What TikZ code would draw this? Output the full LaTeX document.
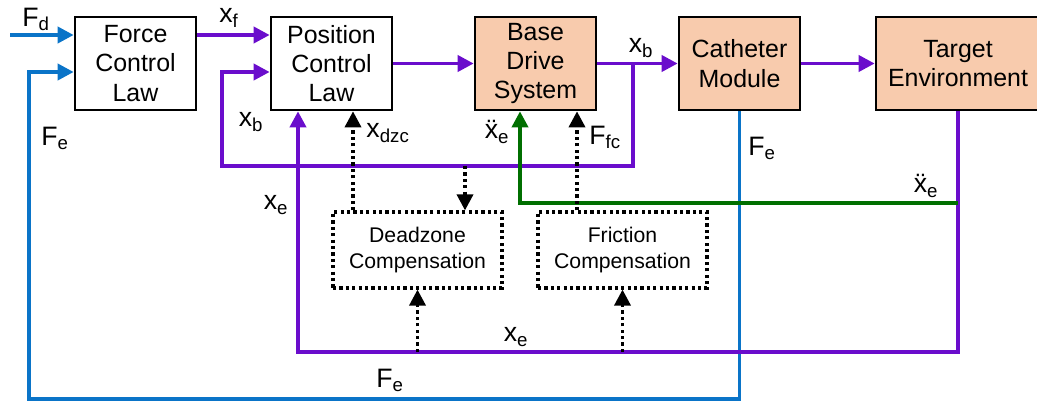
\documentclass[tikz,border=0pt]{standalone}
\usepackage{fontspec}
\setmainfont{Liberation Sans}
\usetikzlibrary{arrows.meta,positioning}
\definecolor{plantfill}{HTML}{F8CBAD}
\definecolor{posline}{HTML}{6A0DCC}
\definecolor{forceline}{HTML}{0A74C8}
\definecolor{accline}{HTML}{006F00}
\newcommand{\sig}[2]{#1\textsubscript{#2}}

\begin{document}
\begin{tikzpicture}[
  x=0.75pt, y=-0.75pt,
  ctrl/.style  = {draw, line width=2pt, minimum width=90.75pt, minimum height=69.75pt,
                  align=center, font=\fontsize{18.7}{22}\selectfont},
  plant/.style = {ctrl, fill=plantfill},
  comp/.style  = {draw, line width=2.4pt, dash pattern=on 2.4pt off 2.4pt,
                  minimum width=126.75pt, minimum height=57pt, align=center,
                  font=\fontsize{15.9}{19.5}\selectfont},
  pl/.style    = {-{Triangle[length=12pt,width=12pt]}, draw=posline, line width=2.8pt},
  fl/.style    = {pl, draw=forceline},
  gl/.style    = {pl, draw=accline},
  dl/.style    = {-{Triangle[length=12pt,width=12pt]}, line width=2.6pt,
                  dash pattern=on 2.4pt off 2.4pt},
  lbl/.style   = {font=\fontsize{20}{24}\selectfont, inner sep=0pt},
]
\useasboundingbox (0,0) rectangle (1037,402);

% --- the forward row of blocks --------------------------------------------------------------------
\node[ctrl]                          (force)  at (135.5,63.5) {Force\\Control\\Law};
\node[ctrl,  right=54.25pt of force] (pos)    {Position\\Control\\Law};
\node[plant, right=60.25pt of pos]   (base)   {Base\\Drive\\System};
\node[plant, right=60.25pt of base]  (cath)   {Catheter\\Module};
\node[plant, right=55pt of cath, minimum width=123pt] (target) {Target\\Environment};

\node[comp] (dz) at (417.5,250) {Deadzone\\Compensation};
\node[comp] (fr) at (622.5,250) {Friction\\Compensation};

% --- rows and columns the signals run on -----------------------------------------------------------
\coordinate (rowa)  at (0,35);
\coordinate (rowb)  at (0,72);
\coordinate (fdin)  at (10,35);
\coordinate (febot) at (29,399);
\coordinate (xbrow) at (222,166);
\coordinate (xerow) at (298,352);
\coordinate (acc)   at (520,203);
\coordinate (cdzc)  at (353,0);
\coordinate (cdzin) at (465,0);
\coordinate (cfc)   at (577,0);
\path (base.east) ++(36,0) coordinate (xbtap);

% --- forward path -----------------------------------------------------------------------------------
\draw[fl] (fdin) -- (force.west |- fdin);
\draw[pl] (force.east |- rowa) -- (pos.west |- rowa);
\draw[pl] (pos.east) -- (base.west);
\draw[pl] (base.east) -- (cath.west);
\draw[pl] (cath.east) -- (target.west);

% --- feedback ---------------------------------------------------------------------------------------
\draw[fl] (cath.south) |- (febot) |- (force.west |- rowb);
\draw[pl] (xbtap) |- (xbrow) |- (pos.west |- rowb);
\draw[pl] (target.south) |- (xerow) -- (pos.south -| xerow);
\draw[gl] (target.south |- acc) -- (acc) -- (base.south -| acc);

% --- compensation -----------------------------------------------------------------------------------
\draw[dl] (dz.north -| cdzc) -- (pos.south -| cdzc);
\draw[dl] (xbrow -| cdzin) -- (dz.north -| cdzin);
\draw[dl] (fr.north -| cfc) -- (base.south -| cfc);
\draw[dl] (xerow -| dz.south) -- (dz.south);
\draw[dl] (xerow -| fr.south) -- (fr.south);

% --- signal names -----------------------------------------------------------------------------------
\node[lbl] (lfd)   at (36,19)   {\sig{F}{d}};
\node[lbl] (lxf)   at (229,18)  {\sig{x}{f}};
\node[lbl] (lfe)   at (55,138)  {\sig{F}{e}};
\node[lbl] (lxb)   at (251,122) {\sig{x}{b}};
\node[lbl] (lxbt)  at (641,48)  {\sig{x}{b}};
\node[lbl] (lxdzc) at (388,133) {\sig{x}{dzc}};
\node[lbl] (lacc)  at (497,132) {\sig{\"x}{e}};
\node[lbl] (lffc)  at (605,137) {\sig{F}{fc}};
\node[lbl] (lfec)  at (762,148) {\sig{F}{e}};
\node[lbl] (lacct) at (926,186) {\sig{\"x}{e}};
\node[lbl] (lxe)   at (276,205) {\sig{x}{e}};
\node[lbl] (lxeb)  at (516,337) {\sig{x}{e}};
\node[lbl] (lfeb)  at (390,380) {\sig{F}{e}};
\end{tikzpicture}
\end{document}
